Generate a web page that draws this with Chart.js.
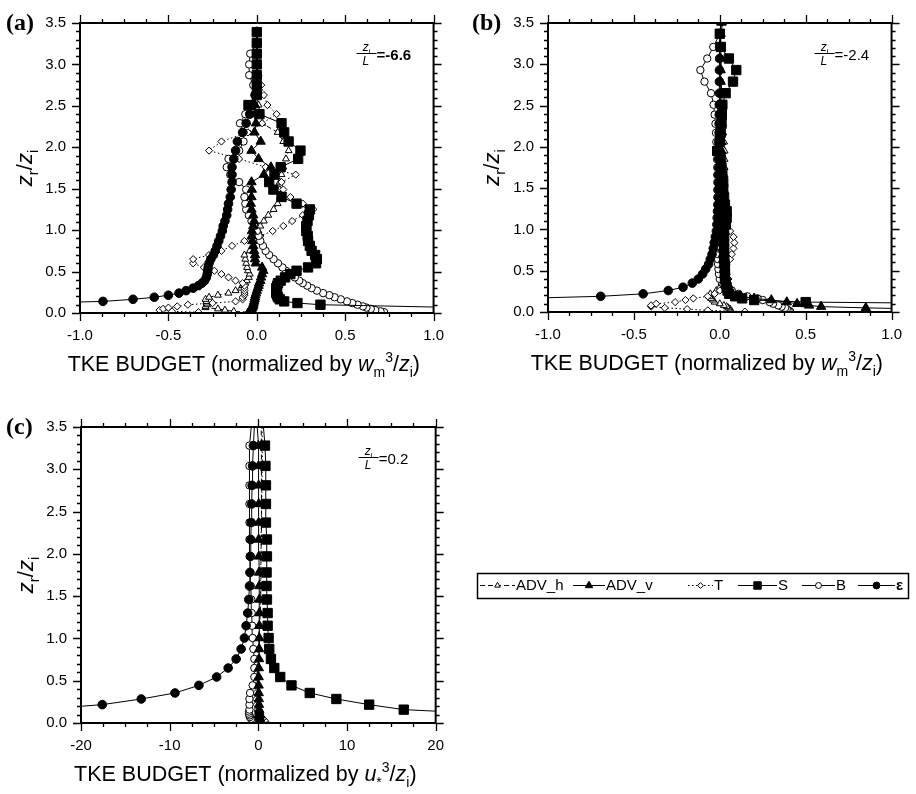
<!DOCTYPE html>
<html>
<head>
<meta charset="utf-8">
<script src="https://cdn.jsdelivr.net/npm/chart.js@4.4.1/dist/chart.umd.min.js"></script>
<style>
  html, body { margin: 0; padding: 0; background: #fff; }
  #page { position: relative; width: 916px; height: 794px; overflow: hidden; background: #fff; }
  #page canvas { position: absolute; }
</style>
</head>
<body>
<div id="page">
  <canvas id="panelA" width="458" height="392" style="left:0;top:0;width:458px;height:392px"></canvas>
  <canvas id="panelB" width="458" height="392" style="left:458px;top:0;width:458px;height:392px"></canvas>
  <canvas id="panelC" width="458" height="394" style="left:0;top:400px;width:458px;height:394px"></canvas>
  <canvas id="legend" width="458" height="50" style="left:458px;top:560px;width:458px;height:50px"></canvas>
</div>
<script>
// ---- TKE budget terms (series), in legend order ----
const SERIES_NAMES = ['ADV_h', 'ADV_v', 'T', 'S', 'B', 'ε'];

// ---- Panel (a): z_i/L = -6.6, normalized by w_m^3/z_i ----
const LEVELS_A = [0.01, 0.02, 0.035, 0.05, 0.065, 0.08,
  0.10, 0.12, 0.14, 0.165, 0.19,
  0.215, 0.24, 0.27, 0.30, 0.33,
  0.36, 0.39, 0.43, 0.47, 0.51,
  0.55, 0.60, 0.65, 0.70, 0.75,
  0.81, 0.87, 0.93, 0.99, 1.05,
  1.11, 1.18, 1.25, 1.32, 1.40,
  1.49, 1.58, 1.67, 1.76, 1.86,
  1.96, 2.07, 2.18, 2.29, 2.40,
  2.51, 2.63, 2.75, 2.87, 3.00,
  3.13, 3.26, 3.39];
const ADVH_A = [-0.05, -0.13, -0.18, -0.22, -0.29, -0.29,
  -0.28, -0.284, -0.285, -0.29, -0.27,
  -0.22, -0.16, -0.12, -0.09, -0.08,
  -0.065, -0.056, -0.045, -0.04, -0.05,
  -0.055, -0.06, -0.065, -0.07, -0.04,
  -0.02, -0.01, 0.0, 0.01, 0.02,
  0.04, 0.065, 0.095, 0.118, 0.13,
  0.13, 0.13, 0.14, 0.15, 0.165,
  0.18, 0.15, 0.118, 0.03, 0.02,
  0.01, 0.0, 0.0, 0.0, 0.0,
  0.0, 0.0, 0.0];
const ADVV_A = [-0.045, -0.04, -0.035, -0.03, -0.025, -0.022,
  -0.02, -0.018, -0.015, -0.012, -0.01,
  -0.008, -0.004, 0.0, 0.005, 0.01,
  0.013, 0.02, 0.024, 0.03, 0.037,
  0.03, -0.006, -0.01, -0.01, -0.015,
  -0.02, -0.025, -0.028, -0.028, -0.02,
  -0.015, -0.02, -0.03, -0.034, -0.03,
  -0.028, -0.03, 0.04, 0.08, 0.01,
  -0.03, 0.022, -0.013, -0.005, -0.01,
  -0.01, 0.0, 0.0, 0.0, 0.0,
  0.0, 0.0, 0.0];
const T_A = [-0.33, -0.48, -0.55, -0.53, -0.50, -0.45,
  -0.39, -0.25, -0.12, -0.08, -0.08,
  -0.07, -0.07, -0.07, -0.07, -0.07,
  -0.08, -0.12, -0.16, -0.20, -0.24,
  -0.30, -0.36, -0.36, -0.27, -0.20,
  -0.14, -0.07, 0.02, 0.09, 0.15,
  0.20, 0.26, 0.32, 0.26, 0.19,
  0.15, 0.14, 0.22, 0.05, -0.10,
  -0.27, -0.20, -0.05, 0.03, 0.112,
  0.06, 0.04, 0.025, 0.01, 0.0,
  0.0, 0.0, 0.0];
const S_A = [null, null, 2.0, 1.5, null, null,
  0.36, 0.23, 0.155, 0.13, 0.12,
  0.115, 0.11, 0.11, 0.11, 0.115,
  0.12, 0.135, 0.16, 0.19, 0.225,
  0.29, 0.335, 0.34, 0.33, 0.31,
  0.30, 0.29, 0.288, 0.28, 0.28,
  0.287, 0.295, 0.30, 0.225, 0.14,
  0.094, 0.07, 0.10, 0.135, 0.234,
  0.247, 0.18, 0.155, 0.14, 0.015,
  -0.047, 0.0, 0.0, 0.0, 0.0,
  0.0, 0.0, 0.0];
const B_A = [0.72, 0.70, 0.67, 0.645, 0.62, 0.60,
  0.57, 0.54, 0.51, 0.475, 0.44,
  0.41, 0.375, 0.34, 0.31, 0.285,
  0.26, 0.24, 0.215, 0.19, 0.165,
  0.145, 0.12, 0.095, 0.07, 0.05,
  0.035, 0.02, 0.01, 0.0, -0.015,
  -0.03, -0.045, -0.06, -0.065, -0.07,
  -0.06, -0.10, -0.15, -0.17, -0.16,
  -0.10, -0.075, -0.075, -0.095, -0.065,
  -0.02, -0.01, -0.02, -0.043, -0.043,
  -0.037, 0.0, 0.0];
const EPS_A = [null, null, null, null, null, -3.0,
  -1.8, -1.25, -0.87, -0.70, -0.58,
  -0.50, -0.44, -0.40, -0.36, -0.33,
  -0.31, -0.295, -0.285, -0.28, -0.278,
  -0.275, -0.27, -0.26, -0.245, -0.235,
  -0.225, -0.215, -0.205, -0.195, -0.19,
  -0.18, -0.17, -0.165, -0.16, -0.15,
  -0.145, -0.14, -0.14, -0.14, -0.13,
  -0.12, -0.11, -0.08, -0.06, -0.04,
  -0.02, -0.01, 0.0, 0.0, 0.0,
  0.0, 0.0, 0.0];

// ---- Panel (b): z_i/L = -2.4, normalized by w_m^3/z_i ----
const LEVELS_B = [0.005, 0.02, 0.035, 0.05, 0.065, 0.08,
  0.10, 0.12, 0.145, 0.165, 0.19,
  0.22, 0.26, 0.30, 0.35, 0.40,
  0.46, 0.52, 0.58, 0.64, 0.70,
  0.77, 0.84, 0.91, 0.98, 1.06,
  1.14, 1.22, 1.30, 1.39, 1.48,
  1.57, 1.66, 1.75, 1.85, 1.95,
  2.06, 2.17, 2.28, 2.39, 2.51,
  2.65, 2.79, 2.93, 3.07, 3.21,
  3.37, 3.53];
const ADVH_B = [0.07, 0.06, 0.06, 0.05, 0.04, 0.024,
  0.0, -0.03, -0.04, -0.05, -0.06,
  -0.055, -0.02, 0.0, 0.01, 0.02,
  0.025, 0.025, 0.025, 0.025, 0.025,
  0.025, 0.025, 0.025, 0.025, 0.025,
  0.025, 0.025, 0.025, 0.028, 0.028,
  0.028, 0.028, 0.028, 0.028, 0.028,
  0.025, 0.02, 0.02, 0.015, 0.015,
  0.01, 0.01, 0.01, 0.005, 0.005,
  0.005, 0.015];
const ADVV_B = [null, 1.5, 1.2, 0.85, 0.59, 0.52,
  0.45, 0.39, 0.30, 0.20, 0.12,
  0.07, 0.05, 0.04, 0.035, 0.03,
  0.028, 0.025, 0.022, 0.02, 0.018,
  0.016, 0.015, 0.014, 0.013, 0.012,
  0.012, 0.011, 0.01, 0.01, 0.01,
  0.01, 0.01, 0.01, 0.01, 0.01,
  0.01, 0.008, 0.008, 0.008, 0.006,
  0.006, 0.005, 0.005, 0.005, 0.005,
  0.005, 0.02];
const T_B = [0.146, -0.07, -0.19, -0.32, -0.40, -0.40,
  -0.37, -0.26, -0.20, -0.154, -0.07,
  -0.03, 0.0, 0.03, 0.045, 0.05,
  0.04, 0.034, 0.04, 0.06, 0.07,
  0.08, 0.085, 0.08, 0.06, 0.03,
  0.015, 0.01, 0.008, 0.006, 0.005,
  0.005, 0.004, 0.004, 0.003, 0.003,
  0.003, 0.002, 0.002, 0.002, 0.002,
  0.001, 0.001, 0.001, 0.0, 0.0,
  0.0, 0.01];
const S_B = [null, null, null, null, null, null,
  1.6, 0.5, 0.2, 0.13, 0.09,
  0.055, 0.045, 0.04, 0.035, 0.03,
  0.03, 0.03, 0.028, 0.026, 0.025,
  0.025, 0.025, 0.025, 0.025, 0.035,
  0.04, 0.04, 0.03, 0.025, 0.02,
  0.02, 0.015, 0.01, 0.005, -0.015,
  0.0, 0.005, 0.01, 0.012, 0.015,
  0.034, 0.077, 0.096, 0.053, 0.006,
  0.0, 0.01];
const B_B = [0.41, 0.40, 0.39, 0.38, 0.36, 0.34,
  0.31, 0.29, 0.25, 0.22, 0.16,
  0.11, 0.07, 0.04, 0.015, 0.0,
  -0.005, -0.008, -0.01, -0.01, -0.01,
  -0.01, -0.01, -0.01, -0.01, -0.01,
  -0.01, -0.012, -0.012, -0.012, -0.014,
  -0.014, -0.015, -0.015, -0.016, -0.018,
  -0.02, -0.022, -0.025, -0.03, -0.036,
  -0.051, -0.089, -0.113, -0.073, -0.038,
  0.0, 0.01];
const EPS_B = [null, null, null, null, null, null,
  null, null, -1.6, -1.15, -0.693,
  -0.446, -0.30, -0.214, -0.16, -0.125,
  -0.10, -0.082, -0.065, -0.055, -0.045,
  -0.038, -0.032, -0.026, -0.02, -0.017,
  -0.015, -0.013, -0.011, -0.01, -0.009,
  -0.008, -0.007, -0.006, -0.006, -0.005,
  -0.005, -0.004, -0.004, -0.003, -0.003,
  -0.002, -0.002, -0.002, -0.001, -0.001,
  0.0, 0.01];

// ---- Panel (c): z_i/L = 0.2, normalized by u*^3/z_i ----
const LEVELS_C = [0.01, 0.03, 0.05, 0.07, 0.09,
  0.11, 0.135, 0.158, 0.217, 0.284,
  0.355, 0.445, 0.544, 0.65, 0.757,
  0.875, 1.005, 1.15, 1.30, 1.46,
  1.62, 1.78, 1.97, 2.17, 2.37,
  2.59, 2.81, 3.04, 3.28, 3.60];
const ADVH_C = [0.65, 0.5, 0.4, 0.3, 0.2,
  0.15, 0.1, 0.05, 0.0, -0.05,
  -0.05, -0.05, -0.05, 0.0, 0.0,
  0.05, 0.1, 0.15, 0.2, 0.25,
  0.3, 0.3, 0.3, 0.35, 0.35,
  0.35, 0.35, 0.35, 0.35, 0.3];
const ADVV_C = [0.35, 0.25, 0.18, 0.14, 0.12,
  0.1, 0.1, 0.1, 0.08, 0.06,
  0.05, 0.04, 0.04, 0.06, 0.08,
  0.1, 0.11, 0.11, 0.11, 0.11,
  0.1, 0.08, 0.06, 0.04, 0.04,
  0.04, 0.03, 0.02, 0.0, -0.2];
const T_C = [0.85, 0.7, 0.5, 0.35, 0.2,
  0.1, 0.0, -0.1, -0.2, -0.25,
  -0.25, -0.2, -0.15, -0.1, -0.05,
  0.0, 0.05, 0.1, 0.15, 0.2,
  0.2, 0.25, 0.3, 0.3, 0.35,
  0.4, 0.4, 0.45, 0.45, 0.4];
const S_C = [null, null, null, null, null,
  26.0, null, 16.4, 12.5, 8.8,
  5.8, 3.74, 2.47, 1.8, 1.42,
  1.23, 1.16, 1.05, 1.05, 0.97,
  0.93, 0.93, 0.97, 0.97, 0.86,
  0.86, 0.86, 0.8, 0.75, 0.5];
const B_C = [-0.3, -0.6, -0.8, -0.95, -1.0,
  -1.05, -1.05, -1.0, -1.0, -1.0,
  -0.93, -0.64, -0.45, -0.45, -0.45,
  -0.56, -0.64, -0.7, -0.75, -0.8,
  -0.85, -0.9, -0.95, -1.0, -1.0,
  -1.0, -1.0, -1.0, -1.0, -0.7];
const EPS_C = [null, null, null, null, null,
  null, null, -25.0, -17.6, -13.2,
  -9.4, -6.7, -4.7, -3.4, -2.5,
  -1.94, -1.57, -1.38, -1.2, -1.08,
  -1.0, -0.95, -0.9, -0.85, -0.8,
  -0.75, -0.7, -0.65, -0.56, -0.4];

// ---- Tick settings ----
const Y_TICKS = { min: 0, max: 3.5, major: 0.5, minor: 0.1 };
const X_TICKS_W = { min: -1, max: 1, major: 0.5, minor: 0.125, digits: 1 };
const X_TICKS_U = { min: -20, max: 20, major: 10, minor: 2.5, digits: 0 };

// ---- Styling ----
const FONT = '"Liberation Sans", Arial, Helvetica, sans-serif';
const SERIF = '"Liberation Serif", "Times New Roman", serif';
// order: lower numbers are painted later (on top)
const SERIES_STYLE = [
  { dash: [5, 3],     point: 'triangle', r: 4.0, fill: '#ffffff', order: 6 },
  { dash: [],         point: 'triangle', r: 5.4, fill: '#000000', order: 3 },
  { dash: [1.5, 2.5], point: 'rectRot',  r: 3.6, fill: '#ffffff', order: 5 },
  { dash: [],         point: 'rect',     r: 6.6, fill: '#000000', order: 1 },
  { dash: [],         point: 'circle',   r: 3.7, fill: '#ffffff', order: 4 },
  { dash: [],         point: 'circle',   r: 4.3, fill: '#000000', order: 2 }
];

Chart.defaults.color = '#000';
Chart.defaults.font.family = FONT;

function profile(values, levels) {
  return levels.map((z, i) => ({ x: values[i], y: z })).filter(p => p.x !== null);
}

// Text runs with italic / subscript / superscript parts.
function segFont(s, size) {
  const sz = (s.sub || s.sup) ? Math.round(size * 0.66) : size;
  return (s.it ? 'italic ' : '') + (s.b ? 'bold ' : '') + sz + 'px ' + FONT;
}
function richWidth(ctx, segs, size) {
  let w = 0;
  segs.forEach(s => { ctx.font = segFont(s, size); w += ctx.measureText(s.t).width; });
  return w;
}
function drawRich(ctx, segs, x, y, size) {
  let cx = x;
  segs.forEach(s => {
    ctx.font = segFont(s, size);
    const dy = s.sub ? size * 0.28 : (s.sup ? -size * 0.42 : 0);
    ctx.fillText(s.t, cx, y + dy);
    cx += ctx.measureText(s.t).width;
  });
}

const frameAndText = {
  id: 'frameAndText',
  afterDraw(chart) {
    const o = chart.options.plugins.frameAndText;
    const { ctx, chartArea } = chart;
    const { left, right, top, bottom } = chartArea;
    const xs = chart.scales.x, ys = chart.scales.y;
    ctx.save();
    ctx.strokeStyle = '#000';
    ctx.fillStyle = '#000';
    ctx.setLineDash([]);

    // outward major/minor ticks on all four sides
    ctx.lineWidth = 1.3;
    ctx.beginPath();
    const xt = o.xTicks, nX = Math.round((xt.max - xt.min) / xt.minor), rX = Math.round(xt.major / xt.minor);
    for (let i = 0; i <= nX; i++) {
      const px = Math.round(xs.getPixelForValue(xt.min + i * xt.minor)) + 0.5;
      const len = i % rX === 0 ? 8 : 4;
      ctx.moveTo(px, bottom); ctx.lineTo(px, bottom + len);
      ctx.moveTo(px, top); ctx.lineTo(px, top - len);
    }
    const yt = o.yTicks, nY = Math.round((yt.max - yt.min) / yt.minor), rY = Math.round(yt.major / yt.minor);
    for (let i = 0; i <= nY; i++) {
      const py = Math.round(ys.getPixelForValue(yt.min + i * yt.minor)) + 0.5;
      const len = i % rY === 0 ? 8 : 4;
      ctx.moveTo(left, py); ctx.lineTo(left - len, py);
      ctx.moveTo(right, py); ctx.lineTo(right + len, py);
    }
    ctx.stroke();
    ctx.lineWidth = 2;
    ctx.strokeRect(left, top, right - left, bottom - top);

    // panel tag
    ctx.font = 'bold 24px ' + SERIF;
    ctx.textBaseline = 'alphabetic';
    ctx.textAlign = 'left';
    ctx.fillText(o.tag, o.tagX, top + 7);

    // stability ratio z_i/L
    const fx = right - 77, by = top + 30.5;
    const num = [{ t: 'z', it: true }, { t: 'i', sub: true }];
    const nw = richWidth(ctx, num, 12);
    drawRich(ctx, num, fx + 10 - nw / 2, by - 3, 12);
    ctx.lineWidth = 1;
    ctx.beginPath(); ctx.moveTo(fx, by); ctx.lineTo(fx + 20, by); ctx.stroke();
    ctx.font = 'italic 12px ' + FONT;
    ctx.fillText('L', fx + 6, by + 11);
    ctx.font = (o.ratioBold ? 'bold ' : '') + '15px ' + FONT;
    ctx.fillText(o.ratio, fx + 20, by + 6);

    // x-axis title
    const tw = richWidth(ctx, o.xTitle, 21.5);
    drawRich(ctx, o.xTitle, (left + right) / 2 - 13 - tw / 2, bottom + 58, 21.5);

    // y-axis title (rotated)
    const yTitle = [{ t: 'z', it: true }, { t: 'r', sub: true }, { t: '/' }, { t: 'z', it: true }, { t: 'i', sub: true }];
    const yw = richWidth(ctx, yTitle, 22);
    ctx.translate(o.yTitleX, (top + bottom) / 2);
    ctx.rotate(-Math.PI / 2);
    drawRich(ctx, yTitle, -yw / 2, 8, 22);
    ctx.restore();
  }
};

function makePanel(canvasId, geo, levels, seriesValues, xTicks, text) {
  const canvas = document.getElementById(canvasId);
  const W = canvas.width, H = canvas.height;
  const datasets = seriesValues.map((vals, k) => {
    const st = SERIES_STYLE[k];
    return {
      label: SERIES_NAMES[k],
      data: profile(vals, levels),
      order: st.order,
      borderColor: '#000',
      borderWidth: 1,
      borderDash: st.dash,
      pointStyle: st.point,
      pointRadius: st.r,
      pointBackgroundColor: st.fill,
      pointBorderColor: '#000',
      pointBorderWidth: 1,
      tension: 0,
      fill: false
    };
  });
  return new Chart(canvas, {
    type: 'line',
    data: { datasets },
    options: {
      responsive: false,
      animation: false,
      devicePixelRatio: 1,
      events: [],
      layout: { padding: { left: 0, top: geo.T, right: W - geo.R, bottom: 0 } },
      scales: {
        x: {
          type: 'linear', position: 'bottom',
          min: xTicks.min, max: xTicks.max,
          grid: { display: false, drawTicks: false },
          border: { display: false },
          ticks: {
            stepSize: xTicks.major, autoSkip: false, maxRotation: 0, padding: 14,
            font: { size: 15, family: FONT }, color: '#000',
            callback: v => Number(v).toFixed(xTicks.digits)
          },
          afterFit: s => { s.height = H - geo.B; }
        },
        y: {
          type: 'linear', position: 'left',
          min: Y_TICKS.min, max: Y_TICKS.max,
          grid: { display: false, drawTicks: false },
          border: { display: false },
          ticks: {
            stepSize: Y_TICKS.major, autoSkip: false, padding: 14,
            font: { size: 15, family: FONT }, color: '#000',
            callback: v => Number(v).toFixed(1)
          },
          afterFit: s => { s.width = geo.L; }
        }
      },
      plugins: {
        legend: { display: false },
        tooltip: { enabled: false },
        frameAndText: Object.assign({ xTicks, yTicks: Y_TICKS }, text)
      }
    },
    plugins: [frameAndText]
  });
}

const TITLE_W = [{ t: 'TKE BUDGET (normalized by ' }, { t: 'w', it: true }, { t: 'm', sub: true }, { t: '3', sup: true }, { t: '/' }, { t: 'z', it: true }, { t: 'i', sub: true }, { t: ')' }];
const TITLE_U = [{ t: 'TKE BUDGET (normalized by ' }, { t: 'u', it: true }, { t: '*', sub: true }, { t: '3', sup: true }, { t: '/' }, { t: 'z', it: true }, { t: 'i', sub: true }, { t: ')' }];

makePanel('panelA', { L: 80, T: 17, R: 436, B: 313 }, LEVELS_A,
  [ADVH_A, ADVV_A, T_A, S_A, B_A, EPS_A], X_TICKS_W,
  { tag: '(a)', tagX: 6, ratio: '=-6.6', ratioBold: true, xTitle: TITLE_W, yTitleX: 24 });
makePanel('panelB', { L: 90, T: 16, R: 445, B: 312 }, LEVELS_B,
  [ADVH_B, ADVV_B, T_B, S_B, B_B, EPS_B], X_TICKS_W,
  { tag: '(b)', tagX: 14, ratio: '=-2.4', ratioBold: false, xTitle: TITLE_W, yTitleX: 33 });
makePanel('panelC', { L: 81, T: 27, R: 437, B: 323 }, LEVELS_C,
  [ADVH_C, ADVV_C, T_C, S_C, B_C, EPS_C], X_TICKS_U,
  { tag: '(c)', tagX: 6, ratio: '=0.2', ratioBold: false, xTitle: TITLE_U, yTitleX: 25 });

// ---- Shared legend ----
(function drawLegend() {
  const ctx = document.getElementById('legend').getContext('2d');
  const cy = 25.5;
  const items = [
    { x0: 22, x1: 57 }, { x0: 115, x1: 147 }, { x0: 230, x1: 255 },
    { x0: 280, x1: 319 }, { x0: 344, x1: 377 }, { x0: 400, x1: 437 }
  ];
  ctx.strokeStyle = '#000';
  ctx.fillStyle = '#000';
  ctx.lineWidth = 1.5;
  ctx.strokeRect(19.5, 13.5, 431, 25);
  items.forEach((it, k) => {
    const st = SERIES_STYLE[k];
    ctx.save();
    ctx.lineWidth = 1;
    ctx.setLineDash(st.dash);
    ctx.beginPath(); ctx.moveTo(it.x0, cy); ctx.lineTo(it.x1, cy); ctx.stroke();
    ctx.setLineDash([]);
    ctx.fillStyle = st.fill;
    const mx = (it.x0 + it.x1) / 2;
    Chart.helpers.drawPoint(ctx, { pointStyle: st.point, rotation: 0, radius: st.r * 0.8, borderWidth: 1 }, mx, cy);
    ctx.restore();
    ctx.font = (k === 5 ? 'bold ' : '') + '15px ' + FONT;
    ctx.textBaseline = 'middle';
    ctx.fillText(SERIES_NAMES[k], it.x1 + 1, cy + 0.5);
  });
})();
</script>
</body>
</html>
